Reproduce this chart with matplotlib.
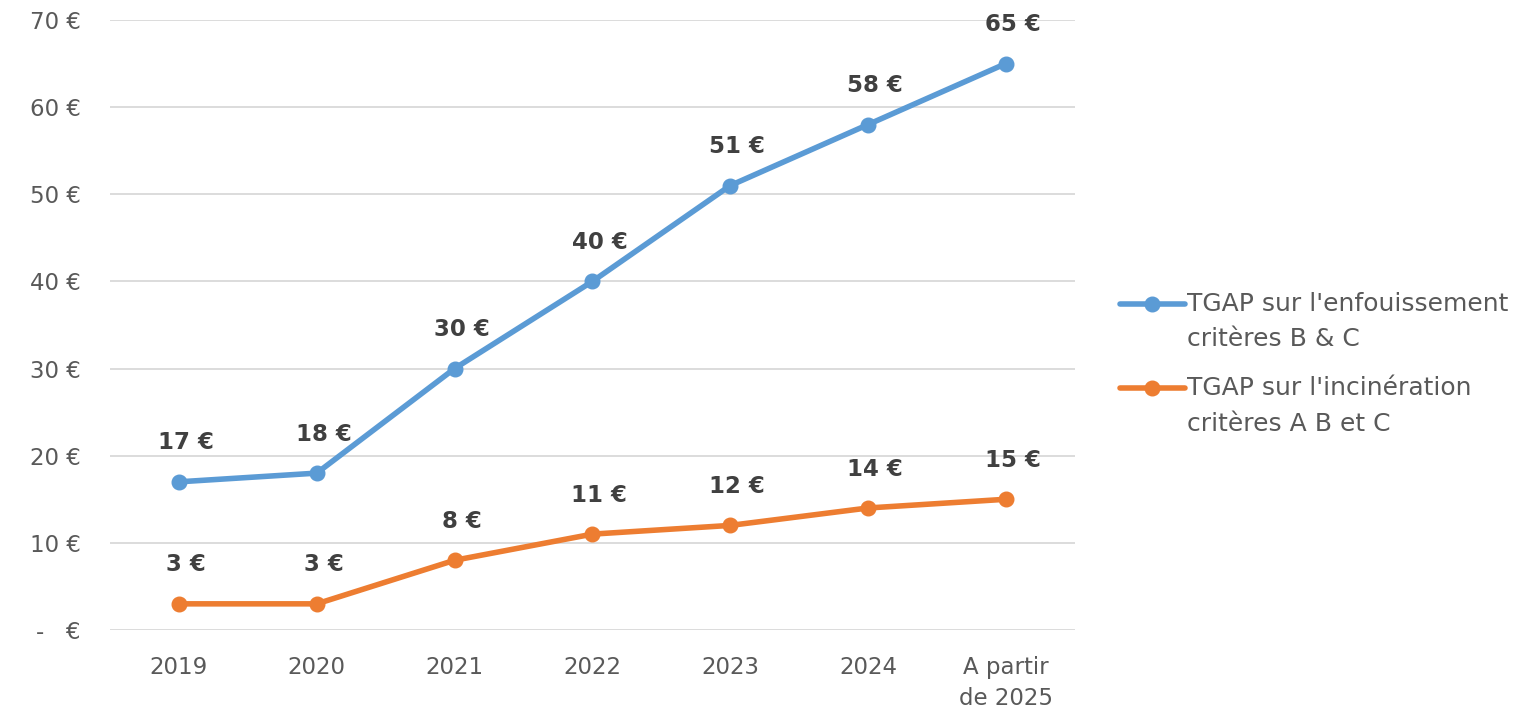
import numpy as np
import matplotlib.pyplot as plt
from matplotlib.legend_handler import HandlerLine2D

plt.rcParams['font.family'] = ['DejaVu Sans']

categories = ["2019", "2020", "2021", "2022", "2023", "2024", "A partir\nde 2025"]
enfouissement = [17, 18, 30, 40, 51, 58, 65]
incineration = [3, 3, 8, 11, 12, 14, 15]
series_names = ["TGAP sur l'enfouissement\ncritères B & C",
                "TGAP sur l'incinération\ncritères A B et C"]
y_ticks = [0, 10, 20, 30, 40, 50, 60, 70]
y_tick_labels = ["-   €", "10 €", "20 €", "30 €", "40 €", "50 €", "60 €", "70 €"]

blue = "#5B9BD5"
orange = "#ED7D31"
text_col = "#595959"


class TopLineHandler(HandlerLine2D):
    # put the legend handle on the first line of a two-line label
    def create_artists(self, legend, orig_handle, xdescent, ydescent,
                       width, height, fontsize, trans):
        arts = super().create_artists(legend, orig_handle, xdescent, ydescent,
                                      width, height, fontsize, trans)
        for a in arts:
            a.set_ydata(np.asarray(a.get_ydata()) + 0.74 * fontsize)
        return arts


fig = plt.figure(figsize=(15.34, 7.10), dpi=100)
ax = fig.add_axes([0.0717, 0.1127, 0.6290, 0.8592])

x = list(range(len(categories)))
for vals, col, name in [(enfouissement, blue, series_names[0]),
                        (incineration, orange, series_names[1])]:
    ax.plot(x, vals, color=col, lw=4, marker="o", markersize=10.5,
            solid_capstyle="round", label=name, clip_on=False, zorder=3)
    for xi, v in zip(x, vals):
        ax.annotate(f"{v} €", (xi, v), xytext=(5, 28), textcoords="offset points",
                    ha="center", va="center", fontsize=16.5, fontweight="bold",
                    color="#404040")

ax.set_xlim(-0.5, len(categories) - 0.5)
ax.set_ylim(0, 70)
ax.set_yticks(y_ticks)
ax.set_yticklabels(y_tick_labels)
ax.set_xticks(x)
ax.set_xticklabels(categories, linespacing=1.45)
ax.tick_params(axis="both", length=0, labelsize=16.5, colors=text_col)
ax.tick_params(axis="x", pad=19)
ax.tick_params(axis="y", pad=21)
ax.grid(axis="y", color="#D9D9D9", lw=1.3)
ax.set_axisbelow(True)
for s in ax.spines.values():
    s.set_visible(False)

leg = fig.legend(loc="upper left", bbox_to_anchor=(0.730, 0.589), frameon=False,
                 fontsize=18, labelcolor=text_col, handlelength=2.6,
                 handletextpad=0.1, labelspacing=1.0, borderpad=0,
                 borderaxespad=0,
                 handler_map={plt.Line2D: TopLineHandler()})
for t in leg.get_texts():
    t.set_linespacing(1.6)

fig.savefig("out.png", dpi=100)
